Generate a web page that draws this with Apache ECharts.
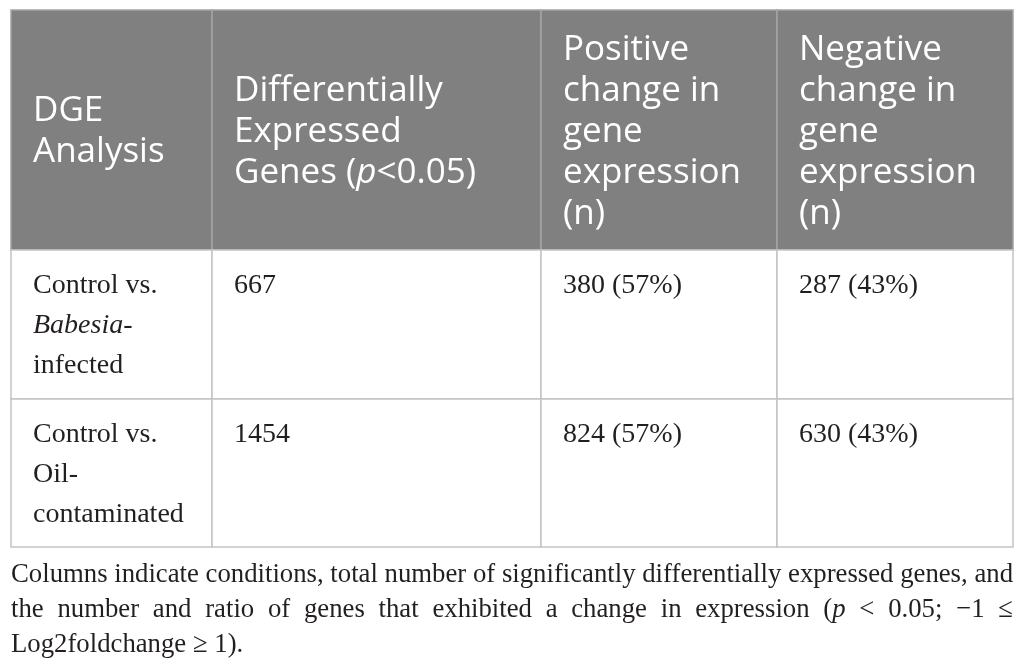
<!DOCTYPE html>
<html>
<head>
<meta charset="utf-8">
<script src="https://cdn.jsdelivr.net/npm/echarts@6/dist/echarts.min.js"></script>
<style>
    html, body { margin: 0; background: #fff; }
    #main { width: 1026px; height: 671px; }
</style>
</head>
<body>
<div id="main"></div>
<script>
// table content
var headers = [
    'DGE\nAnalysis',
    'Differentially\nExpressed\nGenes ({i|p}<0.05)',
    'Positive\nchange in\ngene\nexpression\n(n)',
    'Negative\nchange in\ngene\nexpression\n(n)'
];
var comparisons = ['Control vs.\n{i|Babesia}-\ninfected', 'Control vs.\nOil-\ncontaminated'];
var degTotal = [667, 1454];
var upCount = [380, 824];
var upPct = [57, 57];
var downCount = [287, 630];
var downPct = [43, 43];
var captionLines = [
    'Columns indicate conditions, total number of significantly differentially expressed genes, and',
    'the number and ratio of genes that exhibited a change in expression ({i|p} < 0.05; \u22121 \u2264',
    'Log2foldchange \u2265 1).'
];

// layout (column widths / row heights in table units)
var colWidths = [201, 329, 236, 236];
var rowHeights = [240, 149, 148];

function edges(arr) {
    var out = [0];
    arr.forEach(function (w) { out.push(out[out.length - 1] + w); });
    return out;
}
var colEdges = edges(colWidths);
var rowEdges = edges(rowHeights);

var cells = [];
headers.forEach(function (h, c) { cells.push([c, 0, h]); });
comparisons.forEach(function (name, r) {
    cells.push([0, r + 1, name]);
    cells.push([1, r + 1, String(degTotal[r])]);
    cells.push([2, r + 1, upCount[r] + ' (' + upPct[r] + '%)']);
    cells.push([3, r + 1, downCount[r] + ' (' + downPct[r] + '%)']);
});

var headFont = '"Open Sans", "DejaVu Sans", sans-serif';
var bodyFont = '"Liberation Serif", "DejaVu Serif", serif';

function renderItem(params, api) {
    var col = api.value(0), row = api.value(1);
    var txt = cells[params.dataIndex][2];
    var p0 = api.coord([colEdges[col], rowEdges[row]]);
    var p1 = api.coord([colEdges[col + 1], rowEdges[row + 1]]);
    var head = row === 0;
    var textStyle = head ? {
        text: txt,
        fill: '#fff',
        fontSize: 35,
        fontFamily: headFont,
        lineHeight: 41,
        verticalAlign: 'middle',
        rich: {i: {fontStyle: 'italic', fontSize: 35, fontFamily: headFont, fill: '#fff', lineHeight: 41}}
    } : {
        text: txt,
        fill: '#231f20',
        fontSize: 28,
        fontFamily: bodyFont,
        lineHeight: 40,
        verticalAlign: 'top',
        rich: {i: {fontStyle: 'italic', fontSize: 28, fontFamily: bodyFont, fill: '#231f20', lineHeight: 40}}
    };
    return {
        type: 'group',
        children: [{
            type: 'rect',
            shape: {x: p0[0], y: p0[1], width: p1[0] - p0[0], height: p1[1] - p0[1]},
            style: {fill: head ? '#808080' : '#fff', stroke: head ? '#a4a4a4' : '#c3c3c3', lineWidth: 1.5}
        }, {
            type: 'text',
            x: p0[0] + 22,
            y: head ? (p0[1] + p1[1]) / 2 + 2 : p0[1] + 16,
            style: textStyle
        }]
    };
}

// caption, justified like the journal layout
var capSize = 28;
var capWidth = colEdges[colEdges.length - 1];
var ctx = document.createElement('canvas').getContext('2d');
ctx.font = capSize + 'px "Liberation Serif"';
function plain(s) { return s.replace(/\{i\|([^}]*)\}/g, '$1'); }
var firstW = ctx.measureText(plain(captionLines[0])).width;
var capScale = Math.min(1, capWidth / firstW);
var localWidth = capWidth / capScale;
var capWords = [];
captionLines.forEach(function (line, li) {
    var words = line.split(' ');
    var widths = words.map(function (w) { return ctx.measureText(plain(w)).width; });
    var total = widths.reduce(function (a, b) { return a + b; }, 0);
    var last = li === captionLines.length - 1;
    var gap = last ? ctx.measureText(' ').width : (localWidth - total) / (words.length - 1);
    var x = 0;
    words.forEach(function (w, wi) {
        capWords.push({
            type: 'text',
            x: x,
            y: 589 + li * 35,
            style: {
                text: w,
                fill: '#231f20',
                fontSize: capSize,
                fontFamily: bodyFont,
                verticalAlign: 'bottom',
                rich: {i: {fontStyle: 'italic', fontSize: capSize, fontFamily: bodyFont, fill: '#231f20'}}
            }
        });
        x += widths[wi] + gap;
    });
});

var chart = echarts.init(document.getElementById('main'), null, {renderer: 'canvas'});
chart.setOption({
    animation: false,
    backgroundColor: '#fff',
    grid: {left: 11, top: 10, width: capWidth, height: rowEdges[rowEdges.length - 1]},
    xAxis: {type: 'value', min: 0, max: capWidth, show: false},
    yAxis: {type: 'value', min: 0, max: rowEdges[rowEdges.length - 1], inverse: true, show: false},
    series: [{
        type: 'custom',
        renderItem: renderItem,
        clip: false,
        silent: true,
        encode: {x: 0, y: 1},
        data: cells.map(function (c) { return [c[0], c[1]]; })
    }],
    graphic: {
        elements: [{
            type: 'group',
            x: 11,
            y: 0,
            scaleX: capScale,
            silent: true,
            children: capWords
        }]
    }
});
</script>
</body>
</html>
